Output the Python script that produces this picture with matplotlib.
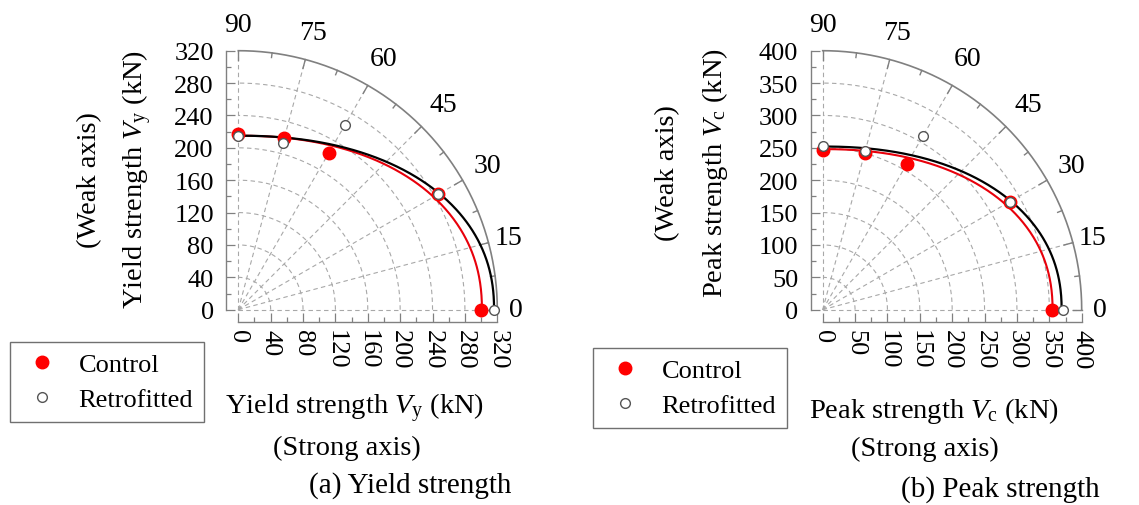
import numpy as np
import matplotlib.pyplot as plt
from matplotlib.lines import Line2D
from matplotlib.ticker import MultipleLocator

plt.rcParams['font.family'] = ['Liberation Serif', 'DejaVu Serif']
plt.rcParams['mathtext.fontset'] = 'custom'
plt.rcParams['mathtext.rm'] = 'Liberation Serif'
plt.rcParams['mathtext.it'] = 'Liberation Serif:italic'
plt.rcParams['font.size'] = 19

W, H = 1139, 506

# loading angle (deg) and measured strengths (kN)
angles = [0, 30, 60, 75, 90]
yield_control = [300, 285, 223, 220, 217]
yield_retro = [316, 285, 264, 213, 215]
peak_control = [354, 334, 260, 250, 246]
peak_retro = [371, 334, 310, 253, 253]

# fitted interaction curves: (strong axis, weak axis) intercepts in kN
yield_fit_control = (301, 215)
yield_fit_retro = (316, 215)
peak_fit_control = (355, 248)
peak_fit_retro = (369, 252)
fit_exp = 2.2

angle_ticks = [0, 15, 30, 45, 60, 75, 90]
angle_lab_r = [1.07, 1.08, 1.11, 1.12, 1.12, 1.11, 1.10]

grid_col = '#a8a8a8'
spine_col = '#808080'
lab_fs = 20.5


def fx(x):
    return x / W


def fy(y):
    return 1 - y / H


def interaction(fit, th):
    a, b = fit
    return 1.0 / ((np.abs(np.cos(th)) / a) ** fit_exp + (np.abs(np.sin(th)) / b) ** fit_exp) ** (1.0 / fit_exp)


def panel(ox, rmax, rstep, ctrl, retro, fit_c, fit_r):
    ax = fig.add_axes([fx(ox), fy(310.7), 259 / W, 259 / H])
    ax.set_xlim(0, rmax)
    ax.set_ylim(0, rmax)

    t = np.linspace(0, np.pi / 2, 300)
    # polar grid
    for r in np.arange(rstep, rmax, rstep):
        ax.plot(r * np.cos(t), r * np.sin(t), ls=(0, (4, 3)), color=grid_col, lw=0.8, zorder=1)
    for a in angle_ticks:
        th = np.radians(a)
        ax.plot([0, rmax * np.cos(th)], [0, rmax * np.sin(th)], ls=(0, (4, 3)),
                color=grid_col, lw=0.8, zorder=1, clip_on=False)
    ax.plot(rmax * np.cos(t), rmax * np.sin(t), color=spine_col, lw=1.2, clip_on=False, zorder=2)
    for a in np.arange(0, 90.1, 7.5):
        th = np.radians(a)
        L = 0.035 * rmax if a % 15 == 0 else 0.018 * rmax
        ax.plot([(rmax - L) * np.cos(th), rmax * np.cos(th)],
                [(rmax - L) * np.sin(th), rmax * np.sin(th)],
                color=spine_col, lw=1.0, clip_on=False, zorder=2)
    for a, k in zip(angle_ticks, angle_lab_r):
        th = np.radians(a)
        ax.text(k * rmax * np.cos(th), k * rmax * np.sin(th), str(a),
                ha='center', va='center', clip_on=False, fontsize=20)

    # fitted curves
    rc = interaction(fit_c, t)
    rr = interaction(fit_r, t)
    ax.plot(rc * np.cos(t), rc * np.sin(t), color='#e8000b', lw=1.5, zorder=3, clip_on=False)
    ax.plot(rr * np.cos(t), rr * np.sin(t), color='black', lw=1.6, zorder=3, clip_on=False)

    # test points
    th = np.radians(angles)
    ax.plot(np.array(ctrl) * np.cos(th), np.array(ctrl) * np.sin(th), 'o', color='#ff0000',
            ms=9, mec='#ff0000', zorder=4, clip_on=False, ls='none')
    ax.plot(np.array(retro) * np.cos(th), np.array(retro) * np.sin(th), 'o', mfc='white',
            mec='#555555', mew=1.0, ms=7, zorder=5, clip_on=False, ls='none')

    for s in ['top', 'right']:
        ax.spines[s].set_visible(False)
    for s in ['left', 'bottom']:
        ax.spines[s].set_position(('outward', 8.6))
        ax.spines[s].set_color(spine_col)
        ax.spines[s].set_linewidth(1.0)
    ax.set_xticks(np.arange(0, rmax + 1, rstep))
    ax.set_yticks(np.arange(0, rmax + 1, rstep))
    ax.xaxis.set_minor_locator(MultipleLocator(rstep / 2))
    ax.yaxis.set_minor_locator(MultipleLocator(rstep / 2))
    ax.tick_params(which='major', direction='in', length=6.5, width=0.9, color=spine_col, pad=5)
    ax.tick_params(which='minor', direction='in', length=3.5, width=0.9, color=spine_col)
    ax.tick_params(axis='y', which='major', pad=9)
    ax.tick_params(axis='x', labelrotation=-90)
    ax.set_facecolor('none')
    return ax


fig = plt.figure(figsize=(W / 100, H / 100), dpi=100)

panel(238.3, 320, 40, yield_control, yield_retro, yield_fit_control, yield_fit_retro)
panel(822.7, 400, 50, peak_control, peak_retro, peak_fit_control, peak_fit_retro)

# axis labels and captions
fig.text(fx(354), fy(408), r'Yield strength $\mathit{V}_\mathrm{y}$ (kN)', ha='center', va='center', fontsize=lab_fs)
fig.text(fx(347), fy(448), '(Strong axis)', ha='center', va='center', fontsize=lab_fs)
fig.text(fx(410), fy(486), '(a) Yield strength', ha='center', va='center', fontsize=21)
fig.text(fx(137), fy(180), r'Yield strength $\mathit{V}_\mathrm{y}$ (kN)', ha='center', va='center',
         rotation=90, fontsize=lab_fs)
fig.text(fx(90), fy(180), '(Weak axis)', ha='center', va='center', rotation=90, fontsize=lab_fs)

fig.text(fx(934), fy(411), r'Peak strength $\mathit{V}_\mathrm{c}$ (kN)', ha='center', va='center', fontsize=lab_fs)
fig.text(fx(925), fy(449), '(Strong axis)', ha='center', va='center', fontsize=lab_fs)
fig.text(fx(1000), fy(490), '(b) Peak strength', ha='center', va='center', fontsize=21)
fig.text(fx(715), fy(173), r'Peak strength $\mathit{V}_\mathrm{c}$ (kN)', ha='center', va='center',
         rotation=90, fontsize=lab_fs)
fig.text(fx(668), fy(173), '(Weak axis)', ha='center', va='center', rotation=90, fontsize=lab_fs)

handles = [Line2D([], [], marker='o', ls='none', color='#ff0000', ms=9),
           Line2D([], [], marker='o', ls='none', mfc='white', mec='#555555', mew=1.0, ms=7)]
for lx, ly in [(10, 343), (593, 349)]:
    leg = fig.legend(handles, ['Control', 'Retrofitted'], loc='upper left',
                     bbox_to_anchor=(fx(lx), fy(ly)), bbox_transform=fig.transFigure,
                     fancybox=False, edgecolor='#707070', framealpha=1, borderpad=0.4,
                     handlelength=1.6, handletextpad=0.6, labelspacing=0.45, borderaxespad=0)
    leg.get_frame().set_linewidth(1.0)

fig.savefig('out.png', dpi=100)
